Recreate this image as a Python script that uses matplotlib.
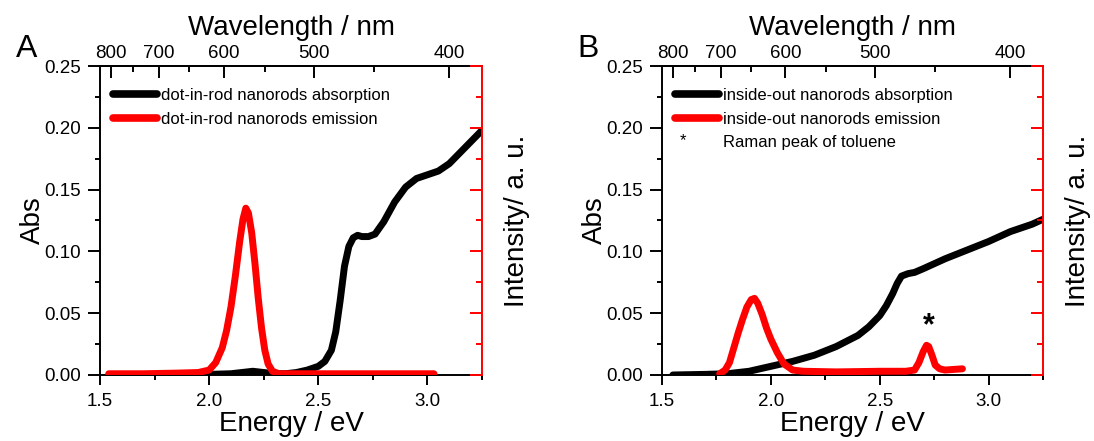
import numpy as np
import matplotlib.pyplot as plt
from matplotlib.lines import Line2D
from matplotlib.ticker import MultipleLocator, FixedLocator, NullFormatter

plt.rcParams['font.family'] = ['Liberation Sans', 'DejaVu Sans']

# panel A: dot-in-rod nanorods
a_abs_e = [1.55, 1.80, 2.00, 2.10, 2.15, 2.20, 2.25, 2.30, 2.35, 2.40, 2.45, 2.50, 2.53, 2.56,
           2.58, 2.60, 2.62, 2.64, 2.66, 2.68, 2.70, 2.73, 2.76, 2.80, 2.85, 2.90, 2.95, 3.00,
           3.05, 3.10, 3.15, 3.20, 3.25]
a_abs = [0.000, 0.000, 0.0005, 0.001, 0.002, 0.003, 0.002, 0.001, 0.001, 0.002, 0.004, 0.007,
         0.011, 0.020, 0.035, 0.060, 0.088, 0.104, 0.111, 0.113, 0.112, 0.112, 0.114, 0.124,
         0.140, 0.152, 0.159, 0.162, 0.165, 0.171, 0.180, 0.189, 0.198]
a_em_e = [1.54, 1.70, 1.85, 1.95, 2.00, 2.03, 2.06, 2.08, 2.10, 2.12, 2.14, 2.155, 2.168, 2.18,
          2.195, 2.21, 2.225, 2.24, 2.255, 2.27, 2.29, 2.32, 2.40, 2.60, 2.80, 3.03]
a_em = [0.001, 0.001, 0.0015, 0.002, 0.004, 0.010, 0.022, 0.036, 0.055, 0.080, 0.108, 0.126,
        0.135, 0.131, 0.115, 0.090, 0.062, 0.038, 0.020, 0.009, 0.003, 0.001, 0.001, 0.001,
        0.001, 0.001]

# panel B: inside-out nanorods
b_abs_e = [1.55, 1.70, 1.80, 1.90, 2.00, 2.10, 2.20, 2.30, 2.40, 2.45, 2.50, 2.53, 2.56, 2.58,
           2.60, 2.63, 2.66, 2.70, 2.75, 2.80, 2.90, 3.00, 3.10, 3.20, 3.25]
b_abs = [0.000, 0.0005, 0.001, 0.003, 0.007, 0.011, 0.016, 0.023, 0.032, 0.039, 0.048, 0.056,
         0.066, 0.074, 0.080, 0.082, 0.083, 0.086, 0.090, 0.094, 0.101, 0.108, 0.116, 0.122,
         0.126]
b_em_e = [1.765, 1.79, 1.81, 1.83, 1.85, 1.87, 1.89, 1.91, 1.925, 1.94, 1.96, 1.98, 2.00, 2.03,
          2.06, 2.10, 2.15, 2.30, 2.50, 2.62, 2.66, 2.68, 2.70, 2.715, 2.725, 2.74, 2.755,
          2.775, 2.80, 2.88]
b_em = [0.001, 0.004, 0.010, 0.022, 0.034, 0.045, 0.055, 0.061, 0.062, 0.058, 0.049, 0.038,
        0.029, 0.018, 0.009, 0.004, 0.003, 0.0025, 0.003, 0.003, 0.004, 0.010, 0.019, 0.024,
        0.023, 0.016, 0.008, 0.005, 0.004, 0.005]

wl_major = [800, 700, 600, 500, 400]
wl_minor = [750, 650, 550, 450]

fig = plt.figure(figsize=(10.94, 4.41), dpi=100)


def panel(rect, abs_e, abs_y, em_e, em_y, labels, letter, letter_x):
    ax = fig.add_axes(rect)
    ax.plot(abs_e, abs_y, color='black', lw=5, solid_capstyle='round')
    ax.set_xlim(1.5, 3.25)
    ax.set_ylim(0, 0.25)
    ax.xaxis.set_major_locator(MultipleLocator(0.5))
    ax.xaxis.set_minor_locator(MultipleLocator(0.25))
    ax.yaxis.set_major_locator(MultipleLocator(0.05))
    ax.yaxis.set_minor_locator(MultipleLocator(0.025))
    ax.xaxis.set_major_formatter(plt.FuncFormatter(lambda v, p: f'{v:.1f}'))
    ax.yaxis.set_major_formatter(plt.FuncFormatter(lambda v, p: f'{v:.2f}'))
    ax.tick_params(which='both', direction='out', width=1.4, labelsize=13.5)
    ax.tick_params(which='major', length=8.5)
    ax.tick_params(which='minor', length=3.8)
    ax.tick_params(axis='x', which='major', length=7, pad=6)
    ax.tick_params(axis='y', which='major', pad=5)
    ax.tick_params(top=False, right=False)
    for s in ax.spines.values():
        s.set_linewidth(1.4)
    ax.spines['right'].set_visible(False)
    ax.set_xlabel('Energy / eV', fontsize=20, labelpad=0.5)
    ax.set_ylabel('Abs', fontsize=20, labelpad=-1)

    # red intensity axis
    axr = ax.twinx()
    axr.plot(em_e, em_y, color='red', lw=5, solid_capstyle='round')
    axr.set_ylim(0, 0.25)
    axr.yaxis.set_major_locator(MultipleLocator(0.05))
    axr.yaxis.set_minor_locator(MultipleLocator(0.025))
    axr.yaxis.set_major_formatter(NullFormatter())
    axr.tick_params(axis='y', which='both', direction='in', colors='red', width=1.4)
    axr.tick_params(axis='y', which='major', length=8.5)
    axr.tick_params(axis='y', which='minor', length=4.3)
    axr.spines['right'].set_color('red')
    axr.spines['right'].set_linewidth(1.4)
    for k in ('left', 'top', 'bottom'):
        axr.spines[k].set_visible(False)
    axr.set_ylabel('Intensity/ a. u.', fontsize=20, labelpad=12)

    # wavelength axis on top
    top = ax.secondary_xaxis('top', functions=(lambda e: 1240.0 / e, lambda w: 1240.0 / w))
    top.xaxis.set_major_locator(FixedLocator(wl_major))
    top.xaxis.set_minor_locator(FixedLocator(wl_minor))
    top.xaxis.set_major_formatter(plt.FuncFormatter(lambda v, p: f'{v:.0f}'))
    top.tick_params(which='both', direction='in', width=1.4, labelsize=13.5, pad=3)
    top.tick_params(which='major', length=8.5)
    top.tick_params(which='minor', length=4.3)
    top.spines['top'].set_linewidth(1.4)
    top.set_xlabel('Wavelength / nm', fontsize=20, labelpad=7)

    handles = [Line2D([], [], color='black', lw=5.5, solid_capstyle='round'),
               Line2D([], [], color='red', lw=5.5, solid_capstyle='round')]
    if len(labels) > 2:
        # slot for the toluene entry; the star itself is written as text below
        handles.append(Line2D([], [], ls='none'))
    ax.legend(handles, labels, loc='upper left', bbox_to_anchor=(0.035, 0.928),
              frameon=False, fontsize=12, handlelength=2.6, handletextpad=0.25,
              labelspacing=0.5, borderaxespad=0, borderpad=0)
    if len(labels) > 2:
        ax.text(0.055, 0.758, '*', transform=ax.transAxes, fontsize=12,
                ha='center', va='center')
    fig.text(letter_x, 0.89, letter, fontsize=23, ha='center', va='center')
    return ax, axr


panel([0.0914, 0.1497, 0.3492, 0.7006], a_abs_e, a_abs, a_em_e, a_em,
      ['dot-in-rod nanorods absorption', 'dot-in-rod nanorods emission'], 'A', 0.024)
axB, axBr = panel([0.6051, 0.1497, 0.3483, 0.7006], b_abs_e, b_abs, b_em_e, b_em,
                  ['inside-out nanorods absorption', 'inside-out nanorods emission',
                   'Raman peak of toluene'], 'B', 0.5375)
axBr.text(2.725, 0.027, '*', fontsize=22, fontweight='bold', ha='center', va='bottom')

fig.savefig('out.png', dpi=100)
